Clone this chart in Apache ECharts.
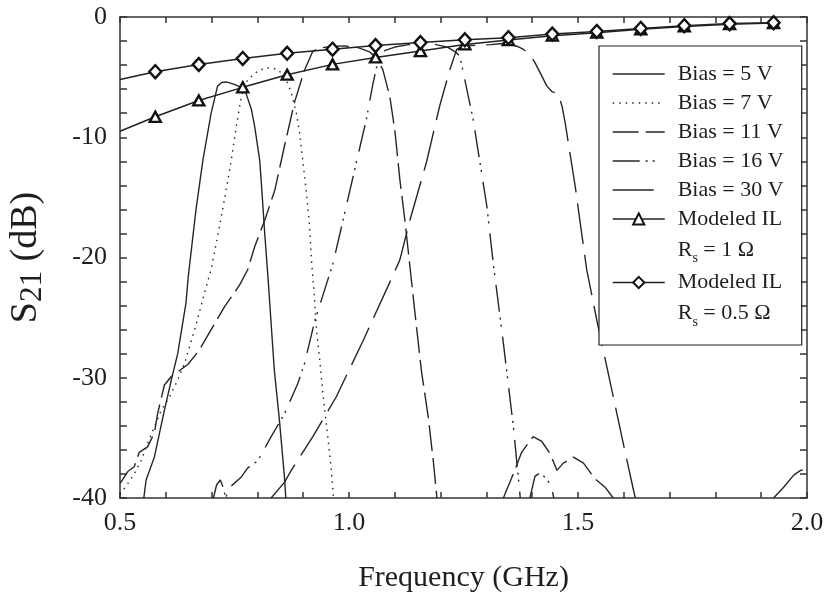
<!DOCTYPE html>
<html><head><meta charset="utf-8">
<script src="https://cdn.jsdelivr.net/npm/echarts@6/dist/echarts.min.js"></script>
<style>html,body{margin:0;padding:0;background:#fff}#c{width:830px;height:598px}</style>
</head><body><div id="c"></div>
<script>
// ---------- data ----------
const xTickLabels = ['0.5', '1.0', '1.5', '2.0'];
const yTickLabels = ['0', '-10', '-20', '-30', '-40'];
const seriesNames = ['Bias = 5 V', 'Bias = 7 V', 'Bias = 11 V', 'Bias = 16 V', 'Bias = 30 V',
  'Modeled IL Rs = 1 Ω', 'Modeled IL Rs = 0.5 Ω'];

const bias5Freq = [0.552, 0.557, 0.575, 0.597, 0.612, 0.626, 0.644, 0.649, 0.666, 0.681, 0.699, 0.713, 0.722, 0.732, 0.750, 0.772, 0.787, 0.794, 0.805, 0.809, 0.816, 0.823, 0.837, 0.848, 0.859, 0.862];
const bias5S21 = [-40, -38.5, -36.6, -32.7, -30.2, -28.0, -23.8, -21.6, -16.0, -11.9, -8.0, -5.75, -5.45, -5.4, -5.6, -6.0, -7.7, -9.1, -11.9, -14.0, -18.0, -21.6, -29.4, -33.5, -38.2, -40];

const bias7Freq = [0.5, 0.517, 0.531, 0.546, 0.560, 0.575, 0.590, 0.608, 0.626, 0.641, 0.652, 0.663, 0.673, 0.684, 0.699, 0.713, 0.728, 0.743, 0.754, 0.765, 0.779, 0.801, 0.819, 0.845, 0.863, 0.874, 0.885, 0.892, 0.899, 0.907, 0.914, 0.918, 0.924, 0.929, 0.936, 0.943, 0.954, 0.961, 0.966];
const bias7S21 = [-39.7, -38.8, -38.0, -36.9, -35.5, -34.1, -32.7, -31.6, -30.2, -28.8, -27.4, -26.0, -24.6, -23.0, -21.0, -18.25, -15.2, -11.9, -9.1, -6.6, -5.2, -4.5, -4.2, -4.36, -5.2, -6.3, -8.0, -9.6, -11.9, -14.6, -17.4, -20.2, -23.0, -26.0, -28.5, -31.3, -35.0, -37.5, -40];

const bias11Freq = [0.5, 0.517, 0.531, 0.542, 0.560, 0.575, 0.582, 0.597, 0.612, 0.648, 0.673, 0.699, 0.728, 0.761, 0.779, 0.794, 0.816, 0.838, 0.859, 0.881, 0.903, 0.921, 0.935, 0.96, 0.99, 1.02, 1.045, 1.06, 1.074, 1.089, 1.100, 1.111, 1.122, 1.133, 1.144, 1.158, 1.173, 1.184, 1.192, 1.26, 1.337, 1.359, 1.377, 1.402, 1.421, 1.439, 1.454, 1.468, 1.490, 1.512, 1.537, 1.559, 1.577];
const bias11S21 = [-38.8, -37.8, -37.4, -36.2, -35.75, -34.6, -33.0, -30.6, -29.9, -28.9, -27.7, -26.0, -24.1, -22.3, -21.0, -19.1, -16.9, -14.4, -10.75, -7.1, -4.4, -2.85, -2.6, -2.45, -2.4, -2.55, -2.9, -3.4, -4.4, -6.6, -9.4, -13.5, -16.9, -20.75, -24.6, -29.4, -33.25, -36.9, -40, null, -40, -37.97, -36.2, -34.9, -35.3, -36.3, -37.7, -37.1, -36.6, -37.1, -38.4, -39.1, -40];

const bias16Freq = [0.704, 0.711, 0.719, 0.726, 0.731, 0.735, 0.743, 0.765, 0.779, 0.801, 0.830, 0.859, 0.888, 0.903, 0.925, 0.940, 0.965, 0.987, 1.016, 1.038, 1.052, 1.063, 1.078, 1.10, 1.13, 1.16, 1.19, 1.215, 1.232, 1.242, 1.271, 1.301, 1.315, 1.337, 1.359, 1.374, 1.385, 1.395, 1.406, 1.417, 1.434, 1.445, 1.447];
const bias16S21 = [-40, -38.9, -38.5, -39.2, -40, -39.5, -39.0, -38.25, -37.5, -36.9, -34.9, -33.0, -30.5, -28.8, -25.3, -23.5, -20.5, -16.9, -12.1, -8.5, -5.6, -3.7, -2.8, -2.5, -2.3, -2.2, -2.3, -2.5, -2.9, -3.25, -8.5, -15.75, -20.5, -27.1, -34.1, -40, null, -40, -38.2, -37.9, -38.5, -39.6, -40];

const bias30Freq = [0.830, 0.859, 0.874, 0.899, 0.921, 0.972, 1.031, 1.085, 1.111, 1.133, 1.169, 1.198, 1.220, 1.235, 1.25, 1.28, 1.31, 1.335, 1.352, 1.368, 1.381, 1.395, 1.406, 1.417, 1.432, 1.443, 1.457, 1.465, 1.472, 1.479, 1.494, 1.508, 1.519, 1.541, 1.563, 1.585, 1.607, 1.625, 1.8, 1.927, 1.949, 1.971, 1.986, 2.0];
const bias30S21 = [-40, -38.7, -37.7, -36.2, -34.9, -31.6, -26.9, -22.4, -20.2, -16.9, -12.1, -7.4, -4.4, -2.7, -2.4, -2.35, -2.3, -2.2, -2.3, -2.45, -2.7, -3.1, -3.8, -4.6, -5.75, -6.2, -6.4, -7.4, -8.8, -10.5, -14.1, -18.0, -21.0, -25.2, -29.1, -33.0, -36.9, -40, null, -40, -39.1, -38.1, -37.7, -37.6];

const ilFreq = [0.5, 0.577, 0.672, 0.768, 0.865, 0.964, 1.058, 1.156, 1.253, 1.348, 1.444, 1.541, 1.637, 1.732, 1.831, 1.927];
const ilRs1 = [-9.5, -8.3, -6.94, -5.85, -4.8, -3.94, -3.36, -2.83, -2.28, -1.92, -1.55, -1.3, -1.02, -0.78, -0.6, -0.5];
const ilRs05 = [-5.2, -4.55, -3.95, -3.45, -3.02, -2.68, -2.38, -2.13, -1.9, -1.72, -1.42, -1.2, -0.95, -0.72, -0.55, -0.47];

// ---------- chart ----------
const FONT = "'Liberation Serif', 'Times New Roman', Times, serif";
const INK = '#1e1e1e';
function pairs(fs, vs) { return fs.map((f, i) => [f, vs[i] === null ? '-' : vs[i]]); }
function ilPairs(fs, vs) { return fs.map((f, i) => i === 0 ? { value: [f, vs[i]], symbol: 'none' } : [f, vs[i]]); }

function measured(name, freq, s21, dash) {
  return {
    name, type: 'line', data: pairs(freq, s21), symbol: 'none', showSymbol: false,
    lineStyle: { color: '#262626', width: 1.4, type: dash, cap: 'butt' },
    itemStyle: { color: '#262626' }, z: 2, silent: true, clip: true
  };
}
function modeled(name, s21, sym, size) {
  return {
    name, type: 'line', data: ilPairs(ilFreq, s21), symbol: sym, symbolSize: size, showSymbol: true,
    lineStyle: { color: '#222', width: 1.5 },
    itemStyle: { color: '#fff', borderColor: '#111', borderWidth: 2.4 },
    z: 4, silent: true
  };
}

const axisLineStyle = { color: '#333', width: 1.5 };
const commonX = { type: 'value', min: 0.5, max: 2.0, interval: 0.1, splitLine: { show: false },
  axisLine: { show: true, onZero: false, lineStyle: axisLineStyle },
  axisTick: { show: true, inside: true, length: 6, lineStyle: axisLineStyle } };
const commonY = { type: 'value', min: -40, max: 0, interval: 2, splitLine: { show: false },
  axisLine: { show: true, onZero: false, lineStyle: axisLineStyle },
  axisTick: { show: true, inside: true, length: 7, lineStyle: axisLineStyle } };

const option = {
  animation: false,
  backgroundColor: '#fff',
  grid: { left: 120, right: 23, top: 17, bottom: 100, containLabel: false, outerBoundsMode: 'none' },
  xAxis: [
    Object.assign({}, commonX, {
      position: 'bottom',
      name: 'Frequency (GHz)', nameLocation: 'middle', nameGap: 65, nameMoveOverlap: false,
      nameTextStyle: { fontFamily: FONT, fontSize: 30, color: INK },
      axisLabel: { show: true, margin: 12, fontFamily: FONT, fontSize: 26, color: INK,
        formatter: v => { const k = Math.round((v - 0.5) / 0.5); return Math.abs(v - 0.5 - k * 0.5) < 1e-6 ? xTickLabels[k] : ''; } }
    }),
    Object.assign({}, commonX, { position: 'top', axisLabel: { show: false } })
  ],
  yAxis: [
    Object.assign({}, commonY, {
      position: 'left',
      name: '{m|S}{sub|21}{m| (dB)}', nameLocation: 'middle', nameGap: 72, nameRotate: 90, nameMoveOverlap: false,
      nameTextStyle: { fontFamily: FONT, fontSize: 38, color: INK,
        rich: { m: { fontFamily: FONT, fontSize: 38, color: INK, lineHeight: 44 },
                sub: { fontFamily: FONT, fontSize: 31, color: INK, verticalAlign: 'bottom' } } },
      axisLabel: { show: true, margin: 13, fontFamily: FONT, fontSize: 26, color: INK,
        formatter: v => { const k = Math.round(-v / 10); return Math.abs(v + k * 10) < 1e-6 ? yTickLabels[k] : ''; } }
    }),
    Object.assign({}, commonY, { position: 'right', axisLabel: { show: false } })
  ],
  legend: [
    {
      data: seriesNames.slice(0, 5), orient: 'vertical', left: 599, top: 46,
      padding: [15, 4, 142, 13], itemWidth: 52, itemHeight: 14, itemGap: 3,
      backgroundColor: '#fff', borderColor: '#222', borderWidth: 1.2, borderRadius: 0,
      selectedMode: false, z: 6,
      itemStyle: { opacity: 0 },
      lineStyle: { width: 1.4, color: '#262626' },
      textStyle: { fontFamily: FONT, fontSize: 22, color: INK, lineHeight: 26, padding: [0, 0, 0, 8], width: 120 }
    },
    {
      data: seriesNames.slice(5), orient: 'vertical', left: 612, top: 208,
      padding: 0, itemWidth: 52, itemHeight: 14, itemGap: 6,
      selectedMode: false, z: 7,
      lineStyle: { width: 1.5, color: '#222' },
      formatter: name => {
        const rs = name.replace('Modeled IL Rs = ', '');
        return '{a|Modeled IL}\n{a|R}{s|s}{a| = ' + rs + '}';
      },
      textStyle: { fontFamily: FONT, fontSize: 22, color: INK, padding: [31, 0, 0, 8],
        rich: { a: { fontFamily: FONT, fontSize: 22, color: INK, lineHeight: 31 },
                s: { fontFamily: FONT, fontSize: 14, color: INK, verticalAlign: 'bottom' } } }
    }
  ],
  series: [
    measured(seriesNames[0], bias5Freq, bias5S21, 'solid'),
    measured(seriesNames[1], bias7Freq, bias7S21, [1.5, 5]),
    measured(seriesNames[2], bias11Freq, bias11S21, [26, 7]),
    measured(seriesNames[3], bias16Freq, bias16S21, [27, 6, 2, 5, 2, 10]),
    measured(seriesNames[4], bias30Freq, bias30S21, [41, 11]),
    modeled(seriesNames[5], ilRs1, 'triangle', [11, 10]),
    modeled(seriesNames[6], ilRs05, 'diamond', [12, 13])
  ]
};
const chart = echarts.init(document.getElementById('c'));
chart.setOption(option);
</script>
</body></html>
